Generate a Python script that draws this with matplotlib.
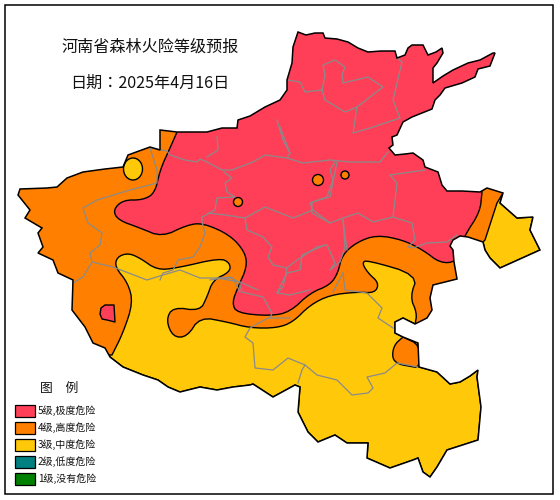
import matplotlib
matplotlib.use("Agg")
import matplotlib.pyplot as plt
from matplotlib.patches import Polygon, Rectangle, Ellipse

plt.rcParams['font.family'] = ['Noto Sans CJK SC', 'DejaVu Sans']

RED = '#FF3F58'
ORANGE = '#FF8000'
YELLOW = '#FFC90A'
TEAL = '#008080'
GREEN = '#008000'
GRAY = '#8A8A8A'

title_text = '河南省森林火险等级预报'
date_text = '日期：2025年4月16日'
legend_title = '图　例'
legend_labels = ['5级,极度危险', '4级,高度危险', '3级,中度危险', '2级,低度危险', '1级,没有危险']
legend_colors = [RED, ORANGE, YELLOW, TEAL, GREEN]

province_outline = [
    (298,32),(306,35),(315,33),(323,33),(325,38),(337,39),(348,42),(358,48),(368,52),(381,51),(395,51),
    (397,58),(405,55),(408,48),(412,45),(423,45),(428,55),(436,52),(442,48),(443,53),(437,63),(433,68),
    (433,83),(443,76),(453,70),(468,63),(480,60),(493,53),(495,53),(490,66),(478,69),(475,77),(462,83),
    (445,88),(440,95),(435,100),(432,109),(412,117),(403,122),(397,135),(392,137),(393,145),(389,148),
    (395,155),(405,154),(413,153),(423,160),(425,167),(438,172),(442,185),(447,191),(462,191),(480,192),
    (487,188),(503,193),(500,203),(517,218),(533,217),(530,230),(540,250),(520,259),(500,268),(490,258),
    (485,250),(483,242),(468,237),(460,236),(453,240),(450,246),(453,250),(454,262),(457,279),(433,285),
    (430,298),(432,310),(427,318),(415,324),(403,318),(395,322),(395,333),(403,337),(418,343),(419,367),
    (437,372),(450,384),(460,382),(470,376),(478,370),(477,377),(481,407),(478,440),(447,450),(437,467),
    (430,477),(423,472),(418,458),(413,460),(390,468),(367,458),(368,443),(347,443),(335,435),(318,442),
    (308,432),(298,412),(300,387),(295,385),(273,397),(253,384),(250,385),(233,387),(217,390),(200,387),
    (180,392),(168,387),(158,380),(143,375),(123,367),(110,357),(105,348),(93,343),(85,327),(72,310),
    (73,280),(58,273),(53,260),(38,253),(43,247),(38,233),(42,228),(25,218),(30,210),(18,195),(20,189),
    (47,188),(57,187),(67,178),(83,172),(105,169),(123,167),(128,155),(150,147),(160,150),(160,130),
    (177,132),(207,132),(222,128),(237,128),(238,120),(250,116),(265,107),(280,100),(287,90),(287,80),
    (292,63),(293,47),
]

red_contour = [
    (177,132),(170,148),(160,170),(155,193),(143,200),(123,200),(113,210),(118,220),(140,228),(162,237),
    (187,225),(203,223),(230,235),(245,252),(247,267),(238,287),(232,303),(237,313),(270,316),(290,312),
    (310,293),(330,285),(338,273),(342,255),(357,242),(377,235),(403,240),(423,250),(440,263),(456,262),
    (462,245),(465,235),(480,212),(482,192),
]
red_closure = [(482,180),(500,180),(500,10),(177,10)]

orange_contour = [
    (112,355),(123,333),(133,303),(128,283),(115,267),(117,257),(128,253),(140,258),(157,270),(177,268),
    (220,258),(230,263),(230,272),(213,280),(207,297),(200,311),(173,307),(166,320),(173,337),(187,337),
    (200,317),(227,322),(250,328),(277,328),(293,322),(310,305),(330,295),(357,292),(375,293),(379,283),
    (368,273),(362,263),(367,260),(418,275),(410,297),(417,313),(415,325),
]
orange_closure = [(470,322),(470,262),(483,242),(485,240),(497,203),(503,193),(505,180),(505,10),(5,10),(5,353)]

orange_southeast = [(403,337),(394,345),(392,358),(398,364),(408,366),(420,368),(420,345)]
red_patch = [(100,314),(101,308),(105,305),(114,305),(115,322),(107,320),(102,319)]

yellow_spots = [(133,169,19,22)]
orange_spots = [(238,202,9,9),(318,180,11,11),(345,175,8,8)]

county_lines = [
    [(150,148),(167,151),(170,155),(185,160),(197,162),(200,159),(207,162),(222,170),(232,170),(253,162),(265,155),(287,158),(303,163),(330,160),(350,162),(380,162),(388,152)],
    [(217,137),(218,150),(207,157)],
    [(277,120),(283,140),(290,153),(287,158)],
    [(280,127),(290,153)],
    [(224,172),(232,178),(225,183),(227,192),(235,197),(217,198),(215,210),(202,217),(202,222),(205,233),(200,247),(193,257),(178,260),(173,270),(163,273),(160,280)],
    [(208,213),(225,215),(245,218),(265,207),(293,218),(313,210),(310,203),(327,197),(333,180),(330,170),(335,162)],
    [(245,218),(247,230),(263,237),(272,247),(268,257),(273,265),(287,268),(283,287),(277,293),(290,295),(310,290)],
    [(287,268),(297,260),(317,247),(327,245),(335,263),(330,270),(340,262),(345,247),(343,220)],
    [(313,210),(330,223),(343,218),(358,213),(373,222),(393,217),(412,223),(415,240),(408,247),(413,248),(427,243),(447,242),(457,235)],
    [(240,285),(242,292),(263,297),(272,313),(270,318)],
    [(210,280),(230,277),(240,283)],
    [(92,262),(113,267),(147,280),(163,275),(180,270),(200,278),(217,278),(233,278),(240,292)],
    [(150,148),(157,170),(157,183),(130,190),(97,200),(83,208),(88,223),(102,233),(100,245),(90,253),(92,262),(83,277),(73,283)],
    [(287,80),(300,82),(305,92),(322,90),(325,100),(345,112),(357,107),(383,87),(368,77),(343,83),(342,75),(345,67),(335,60),(323,65),(325,75),(322,90)],
    [(357,107),(353,133),(370,128),(400,118),(393,100),(402,62),(397,58)],
    [(390,175),(425,170)],
    [(390,175),(397,183),(393,217)],
    [(337,162),(330,197),(312,202),(312,213),(330,223)],
    [(343,220),(347,250)],
    [(343,273),(345,290),(367,293),(382,308),(378,318),(393,328)],
    [(333,292),(343,273)],
    [(290,318),(268,318),(250,328),(245,337),(253,343),(255,368),(273,370),(288,358),(305,365),(317,375),(337,380),(352,395),(368,393),(373,388),(367,377),(385,373),(397,363),(418,367)],
    [(305,365),(302,370),(298,383)],
    [(277,293),(287,273),(300,270),(302,255),(325,245)],
    [(217,278),(240,282),(258,290)],
]


def chaikin(points, rounds=2):
    pts = list(points)
    for _ in range(rounds):
        out = [pts[0]]
        for (x0, y0), (x1, y1) in zip(pts[:-1], pts[1:]):
            out.append((0.75*x0+0.25*x1, 0.75*y0+0.25*y1))
            out.append((0.25*x0+0.75*x1, 0.25*y0+0.75*y1))
        out.append(pts[-1])
        pts = out
    return pts


fig = plt.figure(figsize=(5.6, 5.0), dpi=100)
ax = fig.add_axes([0, 0, 1, 1])
ax.set_xlim(0, 560)
ax.set_ylim(500, 0)
ax.axis('off')

ax.add_patch(Rectangle((5, 5), 548, 489, fc='white', ec='black', lw=1.1, zorder=1))

clip = Polygon(province_outline, closed=True, transform=ax.transData)


def region(pts, color, z):
    patch = Polygon(pts, closed=True, fc=color, ec='black', lw=1.0, zorder=z, joinstyle='round')
    ax.add_patch(patch)
    patch.set_clip_path(clip)


region(province_outline, YELLOW, 2)
region(chaikin(orange_contour) + orange_closure, ORANGE, 3)
region(chaikin(orange_southeast + orange_southeast[:1]), ORANGE, 3)
for x, y, w, h in yellow_spots:
    ax.add_patch(Ellipse((x, y), w, h, fc=YELLOW, ec='black', lw=1.0, zorder=4))
region(chaikin(red_contour) + red_closure, RED, 5)
region(red_patch, RED, 5)
for x, y, w, h in orange_spots:
    ax.add_patch(Ellipse((x, y), w, h, fc=ORANGE, ec='black', lw=1.0, zorder=6))

for line in county_lines:
    xs, ys = zip(*line)
    ax.plot(xs, ys, color=GRAY, lw=0.9, zorder=7, solid_joinstyle='round')

ax.add_patch(Polygon(province_outline, closed=True, fc='none', ec='black', lw=1.1, zorder=8))

ax.text(150, 47, title_text, fontsize=11.6, ha='center', va='center', color='#111111', zorder=9)
ax.text(150, 83, date_text, fontsize=11.6, ha='center', va='center', color='#111111', zorder=9,
        family=['Noto Sans CJK TC', 'DejaVu Sans'])

ax.text(59, 388, legend_title, fontsize=9.2, ha='center', va='center', color='#111111', zorder=9)
for i, (label, color) in enumerate(zip(legend_labels, legend_colors)):
    top = 405 + i*17
    ax.add_patch(Rectangle((15, top), 20, 12, fc=color, ec='black', lw=0.9, zorder=9))
    ax.text(38, top+6, label, fontsize=7.2, ha='left', va='center', color='#111111', zorder=9)

fig.savefig('out.png', dpi=100)
